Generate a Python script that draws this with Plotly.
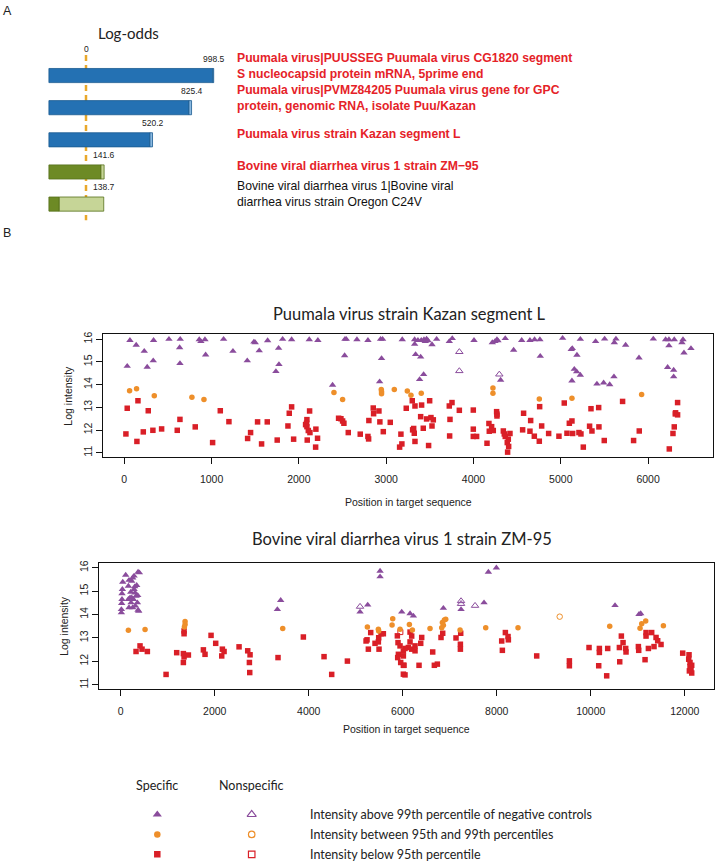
import plotly.graph_objects as go

W, H = 717, 866

# ---------------- Panel A data ----------------
hit_names = [
    "Puumala virus|PUUSSEG Puumala virus CG1820 segment<br>S nucleocapsid protein mRNA, 5prime end",
    "Puumala virus|PVMZ84205 Puumala virus gene for GPC<br>protein, genomic RNA, isolate Puu/Kazan",
    "Puumala virus strain Kazan segment L",
    "Bovine viral diarrhea virus 1 strain ZM\u221295",
    "Bovine viral diarrhea virus 1|Bovine viral<br>diarrhea virus strain Oregon C24V",
]
log_odds = [998.5, 825.4, 520.2, 141.6, 138.7]
dark_end = [992.0, 805.0, 500.0, 117.0, -209.0]
bar_start = -290.0
hit_is_red = [True, True, True, True, False]
hit_group = ["Puumala", "Puumala", "Puumala", "BVDV", "BVDV"]

# ---------------- Panel B data ----------------
top_title = "Puumala virus strain Kazan segment L"
bot_title = "Bovine viral diarrhea virus 1 strain ZM-95"
top_xticks = [0, 1000, 2000, 3000, 4000, 5000, 6000]
bot_xticks = [0, 2000, 4000, 6000, 8000, 10000, 12000]
y_ticks = [11, 12, 13, 14, 15, 16]

# Puumala L: specific, above 99th percentile
top_hi_x = [65, 137, 229, 34, 263, 332, 336, 512, 641, 634, 638, 859, 878, 924, 932, 1138, 1245, 1409,
            1485, 1500, 1546, 1642, 1768, 1772, 1737, 1814, 1917, 2119, 2218, 2386, 2528, 2543, 2524,
            2665, 2791, 2936, 2959, 2947, 2925, 3184,
            3326, 3326, 3364, 3402, 3433, 3463, 3448, 3479, 3525, 3578, 3723, 3757, 4006, 4216, 4246,
            4269, 4280, 4364, 4460, 4552, 4647, 4700, 4761, 4765, 5021, 5224, 5132, 5120, 5185, 5399,
            5502, 5632, 5613, 5743, 5896, 6060, 6201, 6239, 6300, 6239, 6400, 6388, 6491, 6411, 6224,
            6293, 6293, 3337, 3395, 3429, 3383, 5155, 5182, 5224, 5128, 5414, 5491, 5560, 5609, 4311]
top_hi_y = [15.95, 15.74, 15.47, 14.81, 14.77, 15.05, 15.95, 16.0, 16.0, 15.63, 14.93, 15.98, 15.9, 15.98,
            15.31, 16.0, 15.47, 15.05, 15.88, 15.85, 15.49, 15.94, 15.6, 14.89, 14.58, 16.0, 15.98, 15.98,
            15.95, 13.98, 16.0, 16.0, 15.28, 15.98, 15.95, 16.0, 16.0, 15.15, 14.13, 15.98,
            15.98, 15.78, 15.95, 15.95, 15.98, 16.01, 15.9, 15.93, 15.76, 16.0, 15.9, 16.03, 15.95, 15.85,
            15.9, 15.98, 15.93, 16.03, 15.52, 15.95, 15.95, 15.98, 15.98, 15.25, 16.04, 16.0, 15.59, 15.55,
            15.3, 15.9, 16.01, 16.01, 15.85, 15.74, 15.18, 16.01, 15.98, 15.98, 15.98, 15.71, 15.98, 15.85,
            15.59, 15.4, 14.76, 14.64, 14.35, 15.33, 15.22, 14.45, 14.23, 14.68, 14.57, 14.42, 14.17, 14.03,
            14.08, 14.0, 14.35, 14.2]
# Puumala L: nonspecific, above 99th percentile
top_hi_ns_x = [3838, 3838, 4296]
top_hi_ns_y = [15.44, 14.6, 14.45]
# Puumala L: specific, between 95th and 99th
top_mid_x = [61, 141, 344, 775, 913, 2402, 2501, 2944, 2947, 2947, 3093,
             3242, 3284, 3402, 4223, 4223, 4754, 5128, 5926]
top_mid_y = [13.73, 13.82, 13.51, 13.44, 13.35, 13.65, 13.34, 13.79, 13.69, 13.6, 13.78,
             13.72, 13.53, 13.62, 13.85, 13.62, 13.37, 13.4, 13.57]
# Puumala L: specific, below 95th
top_lo_x = [34, 157, 275, 19, 145, 218, 328, 428, 607, 638, 813, 1012, 1100, 1199, 1413, 1447, 1527, 1573,
            1638, 1752, 1875, 1890, 1917, 1940, 2092, 2088, 2077, 2092, 2108, 2127, 2096, 2123, 2195, 2214,
            2192, 2455, 2482, 2501, 2516, 2566, 2703, 2791, 2799, 2802, 2852, 2856, 2917, 2928, 2967, 3047,
            3169, 3180, 3154, 3230,
            3299, 3330, 3406, 3498, 3754, 3723, 3838, 3998, 4265, 4269, 4269, 4574, 4758, 5040, 5346, 5434,
            5708, 6338, 6315, 6338, 6312, 3395, 3463, 3513, 3540, 3525, 3731, 3425, 3315, 3303, 3322, 3330,
            3486, 3727, 3998, 3998, 4036, 4177, 4208, 4227, 4181, 4155, 4342, 4353, 4364, 4418, 4399, 4387,
            4403, 4391, 4563, 4655, 4647, 4697, 4754, 4781, 4861, 4979, 5071, 5098, 5128, 5136, 5208, 5231,
            5258, 5330, 5357, 5437, 5498, 5834, 5899, 6285, 6300, 6243]
top_lo_y = [12.96, 13.29, 12.85, 11.83, 11.5, 11.92, 11.99, 12.05, 11.99, 12.47, 12.14, 11.45, 12.85, 12.37,
            11.63, 11.89, 12.36, 11.39, 12.36, 11.56, 12.18, 12.74, 13.02, 11.6, 12.46, 12.3, 12.24, 12.15,
            11.98, 11.89, 11.56, 12.84, 12.04, 11.64, 11.25, 12.52, 12.5, 12.4, 12.3, 11.89, 11.82, 11.72,
            11.61, 12.42, 12.97, 12.72, 12.84, 12.36, 11.93, 12.34, 11.82, 11.39, 11.25, 12.96,
            13.29, 13.06, 13.1, 13.29, 13.21, 13.06, 12.87, 12.88, 12.81, 12.7, 12.62, 12.74, 13.03, 13.19,
            12.94, 12.99, 13.26, 13.21, 12.76, 12.67, 12.71, 12.59, 12.49, 12.55, 12.45, 12.18, 12.47, 12.08,
            12.07, 12.01, 11.86, 11.5, 11.32, 11.74, 12.04, 11.72, 11.72, 12.29, 12.15, 11.98, 11.95, 11.42,
            11.96, 11.83, 11.72, 11.85, 11.6, 11.45, 11.28, 11.03, 12.01, 12.42, 11.95, 11.73, 11.51, 12.18,
            11.85, 11.73, 11.86, 12.3, 12.4, 11.85, 11.89, 11.83, 11.25, 12.17, 11.96, 12.14, 11.54, 11.54,
            11.96, 11.85, 12.14, 11.17]

# BVDV ZM-95: specific, above 99th percentile
bot_hi_x = [14, 14, 21, 28, 28, 35, 43, 106, 163, 177, 199, 213, 234, 255, 270, 284, 298, 312, 326, 340,
            355, 369, 383, 397, 369, 362, 255, 234, 305, 177, 284, 163, 220,
            3333, 3404, 5092, 5255, 5518, 5518, 5979, 6156, 6227, 6865, 7241, 7730, 7822, 7993, 10517,
            11028, 11063]
bot_hi_y = [14.08, 14.22, 14.48, 14.65, 14.9, 15.08, 15.39, 15.69, 15.22, 14.3, 14.72, 14.96, 15.43, 15.57,
            14.65, 15.08, 15.19, 14.37, 14.79, 15.25, 14.51, 14.19, 14.15, 15.79, 15.82, 14.82, 14.3, 14.72,
            14.93, 15.47, 15.65, 14.65, 14.51,
            14.22, 14.61, 14.11, 14.41, 15.86, 15.62, 14.11, 14.04, 13.94, 14.27, 14.22, 14.51, 15.82, 16.0,
            14.39, 14.01, 14.04]
bot_hi_ns_x = [5092, 7241, 7241, 7539]
bot_hi_ns_y = [14.34, 14.58, 14.46, 14.38]
bot_mid_x = [163, 518, 1369, 1369, 1355, 3447, 5248, 5482, 5489, 5787, 5773, 5943,
             6142, 6205, 6581, 6844, 6865, 6886, 6915, 6830, 7220, 7766, 8453, 10404, 11049, 11085, 11170,
             11546]
bot_mid_y = [13.33, 13.36, 13.7, 13.58, 13.47, 13.4, 13.47, 13.37, 13.3, 13.82, 13.55, 13.37,
             13.58, 13.34, 13.4, 13.66, 13.54, 13.77, 13.8, 13.44, 13.34, 13.44, 13.44, 13.5, 13.41, 13.61,
             13.72, 13.52]
bot_mid_ns_x = [9340]
bot_mid_ns_y = [13.91]
bot_lo_x = [411, 454, 326, 567, 965, 1191, 1348, 1348, 1333, 1348, 1333, 1440, 1759, 1794, 1922, 2021,
            2163, 2199, 2149, 2518, 2702, 2752, 2738, 2745, 3347, 3886, 4326, 4489, 4823, 5241, 5269,
            5319, 5411, 5482, 5496, 5539, 5588, 5886, 5900, 5908, 5893, 5943, 5957, 6014, 6014, 6014, 5220,
            5489,
            6156, 6191, 6156, 6262, 6120, 6049, 6191, 6262, 6014, 6028, 6049, 6347, 6404, 6383, 6638, 6673,
            6737, 6815, 6851, 7134, 7234, 7227, 7227, 8106, 8120, 8184, 8241, 8248, 8851, 9546, 9546, 9964,
            10184, 10184, 10170, 10340, 10361, 10610, 10652, 10688, 10744, 10751, 10617, 11014, 11021,
            11156, 11177, 11177, 11297, 11227, 11347, 11390, 11425, 11496, 11957, 12092, 12085, 12113,
            12149, 12134, 12149, 12099, 12113]
bot_lo_y = [12.66, 12.52, 12.42, 12.42, 11.44, 12.37, 13.3, 13.18, 12.33, 12.19, 11.95, 12.27, 12.49, 12.3,
            13.11, 12.77, 12.52, 12.42, 12.23, 12.62, 12.45, 12.28, 11.95, 11.52, 12.16, 13.04, 12.2, 11.44,
            12.01, 12.92, 12.52, 13.23, 12.77, 12.83, 12.52, 13.18, 13.18, 13.09, 12.8, 12.3, 12.16, 12.66,
            11.95, 11.83, 11.45, 12.44, 12.87, 13.01,
            13.25, 13.08, 12.83, 12.66, 12.59, 12.55, 12.52, 12.45, 12.23, 11.83, 11.42, 11.83, 13.02, 12.77,
            12.4, 11.83, 11.88, 13.02, 13.2, 13.0, 13.2, 12.73, 12.52, 12.87, 12.47, 13.23, 13.06, 12.92,
            12.23, 12.02, 11.81, 12.59, 12.55, 12.38, 11.81, 11.38, 12.55, 12.59, 13.08, 12.8, 12.55, 12.4,
            11.98, 12.63, 12.47, 12.07, 13.23, 13.08, 13.23, 12.55, 12.63, 13.02, 12.88, 12.72, 12.35, 12.28,
            12.09, 11.95, 11.83, 11.67, 11.5, 11.59, 11.77]
bot_lo_ns_x = [5950]
bot_lo_ns_y = [13.25]

legend_headers = ["Specific", "Nonspecific"]
legend_rows = ["Intensity above 99th percentile of negative controls",
               "Intensity between 95th and 99th percentiles",
               "Intensity below 95th percentile"]

# ---------------- styling ----------------
PURPLE = "#8a4c9c"
ORANGE = "#ee8f2a"
RED = "#d91f27"
TITLE_FONT = "Lato"
ARIAL = "Liberation Sans"


def pxx(p):
    return p / W


def pxy(p):
    return 1 - p / H


fig = go.Figure()

# ---- Panel A bars ----
idx = list(range(len(log_odds)))
dark_cols = ["#2471b3" if g == "Puumala" else "#6d8a25" for g in hit_group]
light_cols = ["#8ab9e0" if g == "Puumala" else "#c6d597" for g in hit_group]
edge_cols = ["#1a5a90" if g == "Puumala" else "#56701a" for g in hit_group]
fig.add_trace(go.Bar(orientation="h", y=idx, x=[d - bar_start for d in dark_end],
                     base=[bar_start] * len(idx), width=0.44,
                     marker=dict(color=dark_cols, line=dict(color=edge_cols, width=0.8)),
                     xaxis="x", yaxis="y", showlegend=False, hoverinfo="skip"))
fig.add_trace(go.Bar(orientation="h", y=idx, x=[t - d for t, d in zip(log_odds, dark_end)],
                     base=dark_end, width=0.44,
                     marker=dict(color=light_cols, line=dict(color=edge_cols, width=0.8)),
                     xaxis="x", yaxis="y", showlegend=False, hoverinfo="skip"))

ann = []
for i, v in enumerate(log_odds):
    ann.append(dict(x=v, y=i - 0.53, xref="x", yref="y", text=f"{v:.1f}", showarrow=False,
                    font=dict(family=ARIAL, size=8.5, color="#222"), xanchor="center", yanchor="middle"))
    txt = hit_names[i]
    two_lines = "<br>" in txt
    if hit_is_red[i]:
        txt = "<b>" + txt.replace("<br>", "</b><br><b>") + "</b>"
    ann.append(dict(x=pxx(235), y=i - (0.31 if two_lines else 0.19), xref="paper", yref="y", text=txt,
                    showarrow=False, align="left", xanchor="left", yanchor="middle",
                    font=dict(family=ARIAL, size=12.2, color="#e52228" if hit_is_red[i] else "#111")))
ann.append(dict(x=0, y=pxy(46), xref="x", yref="paper", text="0", showarrow=False,
                font=dict(family=ARIAL, size=8.5, color="#222"), xanchor="center", yanchor="middle"))
ann.append(dict(x=pxx(128), y=pxy(30.5), xref="paper", yref="paper", text="Log-odds", showarrow=False,
                font=dict(family=TITLE_FONT, size=15, color="#222"), xanchor="center", yanchor="middle"))
ann.append(dict(x=pxx(7), y=pxy(8.5), xref="paper", yref="paper", text="A", showarrow=False,
                font=dict(family=ARIAL, size=12.5, color="#222"), xanchor="center", yanchor="middle"))
ann.append(dict(x=pxx(7), y=pxy(231), xref="paper", yref="paper", text="B", showarrow=False,
                font=dict(family=ARIAL, size=12.5, color="#222"), xanchor="center", yanchor="middle"))

shapes = [dict(type="line", xref="x", yref="y", x0=0, x1=0, y0=-0.64, y1=4.5, layer="below",
               line=dict(color="#e9a82b", width=2.5, dash="6px,4px"))]


# ---- Panel B scatter ----
def add_pts(xs, ys, symbol, color, size, xa, ya):
    fig.add_trace(go.Scatter(x=xs, y=ys, mode="markers", xaxis=xa, yaxis=ya, showlegend=False,
                             hoverinfo="skip", cliponaxis=False,
                             marker=dict(symbol=symbol, color=color, size=size,
                                         line=dict(color=color, width=1 if "open" in symbol else 0))))


add_pts(top_lo_x, top_lo_y, "square", RED, 5.5, "x2", "y2")
add_pts(top_mid_x, top_mid_y, "circle", ORANGE, 5.5, "x2", "y2")
add_pts(top_hi_x, top_hi_y, "triangle-up", PURPLE, 6.5, "x2", "y2")
add_pts(top_hi_ns_x, top_hi_ns_y, "triangle-up-open", PURPLE, 6.5, "x2", "y2")

add_pts(bot_lo_x, bot_lo_y, "square", RED, 5.5, "x3", "y3")
add_pts(bot_lo_ns_x, bot_lo_ns_y, "square-open", RED, 5, "x3", "y3")
add_pts(bot_mid_x, bot_mid_y, "circle", ORANGE, 5.5, "x3", "y3")
add_pts(bot_mid_ns_x, bot_mid_ns_y, "circle-open", ORANGE, 5.5, "x3", "y3")
add_pts(bot_hi_x, bot_hi_y, "triangle-up", PURPLE, 6.5, "x3", "y3")
add_pts(bot_hi_ns_x, bot_hi_ns_y, "triangle-up-open", PURPLE, 6.5, "x3", "y3")

# titles / axis titles
for (cx, cy, t) in [(409, 311.7, top_title), (402, 537.7, bot_title)]:
    ann.append(dict(x=pxx(cx), y=pxy(cy), xref="paper", yref="paper", text=t, showarrow=False,
                    font=dict(family=TITLE_FONT, size=16.5, color="#222"), xanchor="center", yanchor="middle"))
for (cx, cy) in [(408, 500.7), (406, 729)]:
    ann.append(dict(x=pxx(cx), y=pxy(cy), xref="paper", yref="paper", text="Position in target sequence",
                    showarrow=False, font=dict(family=ARIAL, size=10.5, color="#222"),
                    xanchor="center", yanchor="middle"))
for (cx, cy) in [(68, 394), (64, 625)]:
    ann.append(dict(x=pxx(cx), y=pxy(cy), xref="paper", yref="paper", text="Log intensity",
                    showarrow=False, textangle=-90, font=dict(family=ARIAL, size=10.5, color="#222"),
                    xanchor="center", yanchor="middle"))

# ---- legend ----
leg_syms = [["triangle-up", "triangle-up-open"], ["circle", "circle-open"], ["square", "square-open"]]
leg_cols = [PURPLE, ORANGE, RED]
leg_size = [8, 6.5, 6.5]
for r in range(3):
    for c in range(2):
        fig.add_trace(go.Scatter(x=[c], y=[r], mode="markers", xaxis="x4", yaxis="y4", showlegend=False,
                                 hoverinfo="skip",
                                 marker=dict(symbol=leg_syms[r][c], color=leg_cols[r], size=leg_size[r],
                                             line=dict(color=leg_cols[r], width=1.2 if c else 0))))
    ann.append(dict(x=pxx(307.7), y=r, xref="paper", yref="y4", text=legend_rows[r], showarrow=False,
                    xanchor="left", yanchor="middle", font=dict(family=TITLE_FONT, size=12.5, color="#222")))
for c in range(2):
    ann.append(dict(x=c, y=-1.45, xref="x4", yref="y4", text=legend_headers[c], showarrow=False,
                    xanchor="center", yanchor="middle", font=dict(family=TITLE_FONT, size=12.5, color="#222")))

axis_common = dict(showline=True, mirror=True, linecolor="#111", linewidth=1, ticks="outside", ticklen=6,
                   tickcolor="#111", showgrid=False, zeroline=False,
                   tickfont=dict(family=ARIAL, size=10.5, color="#222"))

scale_a = 127.7 / 998.5
fig.update_layout(
    width=W, height=H, margin=dict(l=0, r=0, t=0, b=0), plot_bgcolor="white", paper_bgcolor="white",
    barmode="overlay", showlegend=False,
    xaxis=dict(domain=[pxx(40), pxx(230)], range=[(40 - 86) / scale_a, (230 - 86) / scale_a],
               visible=False, fixedrange=True),
    yaxis=dict(domain=[pxy(225), pxy(40)], range=[4.72, -1.017], visible=False),
    xaxis2=dict(domain=[pxx(103.3), pxx(713.3)], range=[-240, 6747], anchor="y2", tickvals=top_xticks,
                tickformat="d", ticklabelstandoff=6, **axis_common),
    yaxis2=dict(domain=[pxy(455.7), pxy(332.3)], range=[10.81, 16.22], anchor="x2", tickvals=y_ticks,
                tickangle=-90, ticklabelstandoff=0, **axis_common),
    xaxis3=dict(domain=[pxx(99), pxx(714)], range=[-462, 12623], anchor="y3", tickvals=bot_xticks,
                tickformat="d", ticklabelstandoff=6, **axis_common),
    yaxis3=dict(domain=[pxy(688.3), pxy(562.3)], range=[10.82, 16.19], anchor="x3", tickvals=y_ticks,
                tickangle=-90, ticklabelstandoff=0, **axis_common),
    xaxis4=dict(domain=[pxx(100), pxx(300)], range=[(100 - 157.3) / 94.4, (300 - 157.3) / 94.4],
                anchor="y4", visible=False),
    yaxis4=dict(domain=[pxy(866), pxy(770)], range=[(866 - 814.3) / 20, (770 - 814.3) / 20],
                anchor="x4", visible=False),
    annotations=ann, shapes=shapes,
)

fig.write_html("out.html", config={"displayModeBar": False},
               post_script="document.body.style.margin='0';")
